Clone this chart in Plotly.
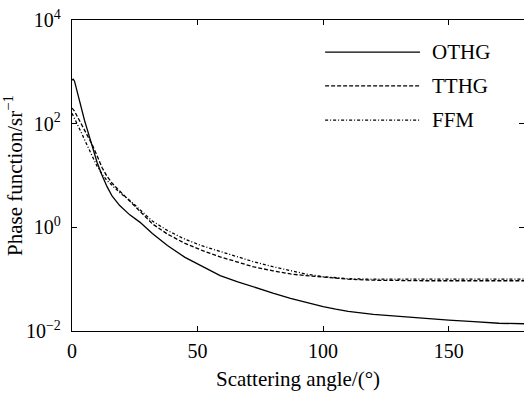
import plotly.graph_objects as go

angle = [0, 0.5, 1, 2, 3, 4, 5, 6, 7, 8, 10, 12, 14, 16, 19, 23, 27, 32, 38, 45,
         52, 59, 66, 72, 80, 87, 93, 100, 105, 110, 120, 130, 140, 150, 160, 170, 180]

othg = [692, 724, 661, 417, 263, 174, 115, 79.4, 55.0, 38.0,
        17.8, 10.0, 6.03, 3.98, 2.63, 1.74, 1.26, 0.759, 0.447, 0.263,
        0.178, 0.117, 0.0891, 0.0708, 0.0537, 0.0427, 0.0355, 0.0295, 0.0263, 0.0240,
        0.0209, 0.0191, 0.0174, 0.0162, 0.0151, 0.0141, 0.0138]

tthg = [200, 186, 174, 141, 115, 95.5, 77.6, 63.1, 50.1, 39.8,
        24.0, 14.1, 9.55, 7.08, 5.01, 3.16, 2.0, 1.17, 0.741, 0.490,
        0.355, 0.269, 0.214, 0.174, 0.145, 0.126, 0.117, 0.110, 0.105, 0.100,
        0.0955, 0.0933, 0.0933, 0.0933, 0.0933, 0.0933, 0.0933]

ffm = [158, 141, 126, 105, 81.3, 63.1, 49.0, 38.0, 30.2, 24.0,
       15.1, 10.5, 7.94, 6.31, 4.68, 3.31, 2.24, 1.32, 0.871, 0.589,
       0.437, 0.339, 0.269, 0.219, 0.174, 0.145, 0.126, 0.112, 0.107, 0.102,
       0.100, 0.100, 0.100, 0.100, 0.100, 0.100, 0.100]

series_names = ["OTHG", "TTHG", "FFM"]
x_ticks = [0, 50, 100, 150]
y_ticks = [0.01, 1, 100, 10000]
y_tick_text = ["10<sup>\u22122</sup>", "10<sup>0</sup>", "10<sup>2</sup>", "10<sup>4</sup>"]

FONT = "Liberation Serif"
FS_TICK = 20
FS_TITLE = 21
dashes = ["solid", "4px,2px", "3px,2px,1px,2px"]

fig = go.Figure()
for name, ys, d in zip(series_names, [othg, tthg, ffm], dashes):
    fig.add_trace(go.Scatter(x=angle, y=ys, mode="lines", name=name,
                             line=dict(color="black", width=1.3, dash=d),
                             showlegend=False))

# manual legend (long line samples like the original)
leg_y = [0.897, 0.788, 0.678]
for name, d, yy in zip(series_names, dashes, leg_y):
    fig.add_shape(type="line", xref="paper", yref="paper", x0=0.56, x1=0.77, y0=yy, y1=yy,
                  line=dict(color="black", width=1.3, dash=d))
    fig.add_annotation(xref="paper", yref="paper", x=0.793, y=yy, text=name, showarrow=False,
                       xanchor="left", yanchor="middle",
                       font=dict(family=FONT, size=FS_TITLE, color="black"))

fig.update_layout(
    width=524, height=399,
    margin=dict(l=72, r=0, t=20, b=68, autoexpand=False),
    paper_bgcolor="white", plot_bgcolor="white",
    font=dict(family=FONT, size=FS_TICK, color="black"),
    xaxis=dict(range=[0, 180], tickvals=x_ticks, ticks="inside", ticklen=5, tickcolor="black",
               showline=True, linecolor="black", linewidth=1.3, mirror="ticks", showgrid=False,
               zeroline=False, ticklabelstandoff=2, automargin=False,
               tickfont=dict(family=FONT, size=FS_TICK),
               title=dict(text="Scattering angle/(\u00b0)", font=dict(family=FONT, size=FS_TITLE), standoff=10)),
    yaxis=dict(type="log", range=[-2, 4], tickvals=y_ticks, ticktext=y_tick_text,
               ticks="inside", ticklen=5, tickcolor="black",
               showline=True, linecolor="black", linewidth=1.3, mirror="ticks", showgrid=False,
               zeroline=False, ticklabelstandoff=6, automargin=False,
               tickfont=dict(family=FONT, size=FS_TICK),
               title=dict(text="Phase function/sr<sup>\u22121</sup>", font=dict(family=FONT, size=FS_TITLE), standoff=14)),
)

fig.write_html("out.html", config={"displayModeBar": False},
               post_script="document.body.style.margin='0px';")
